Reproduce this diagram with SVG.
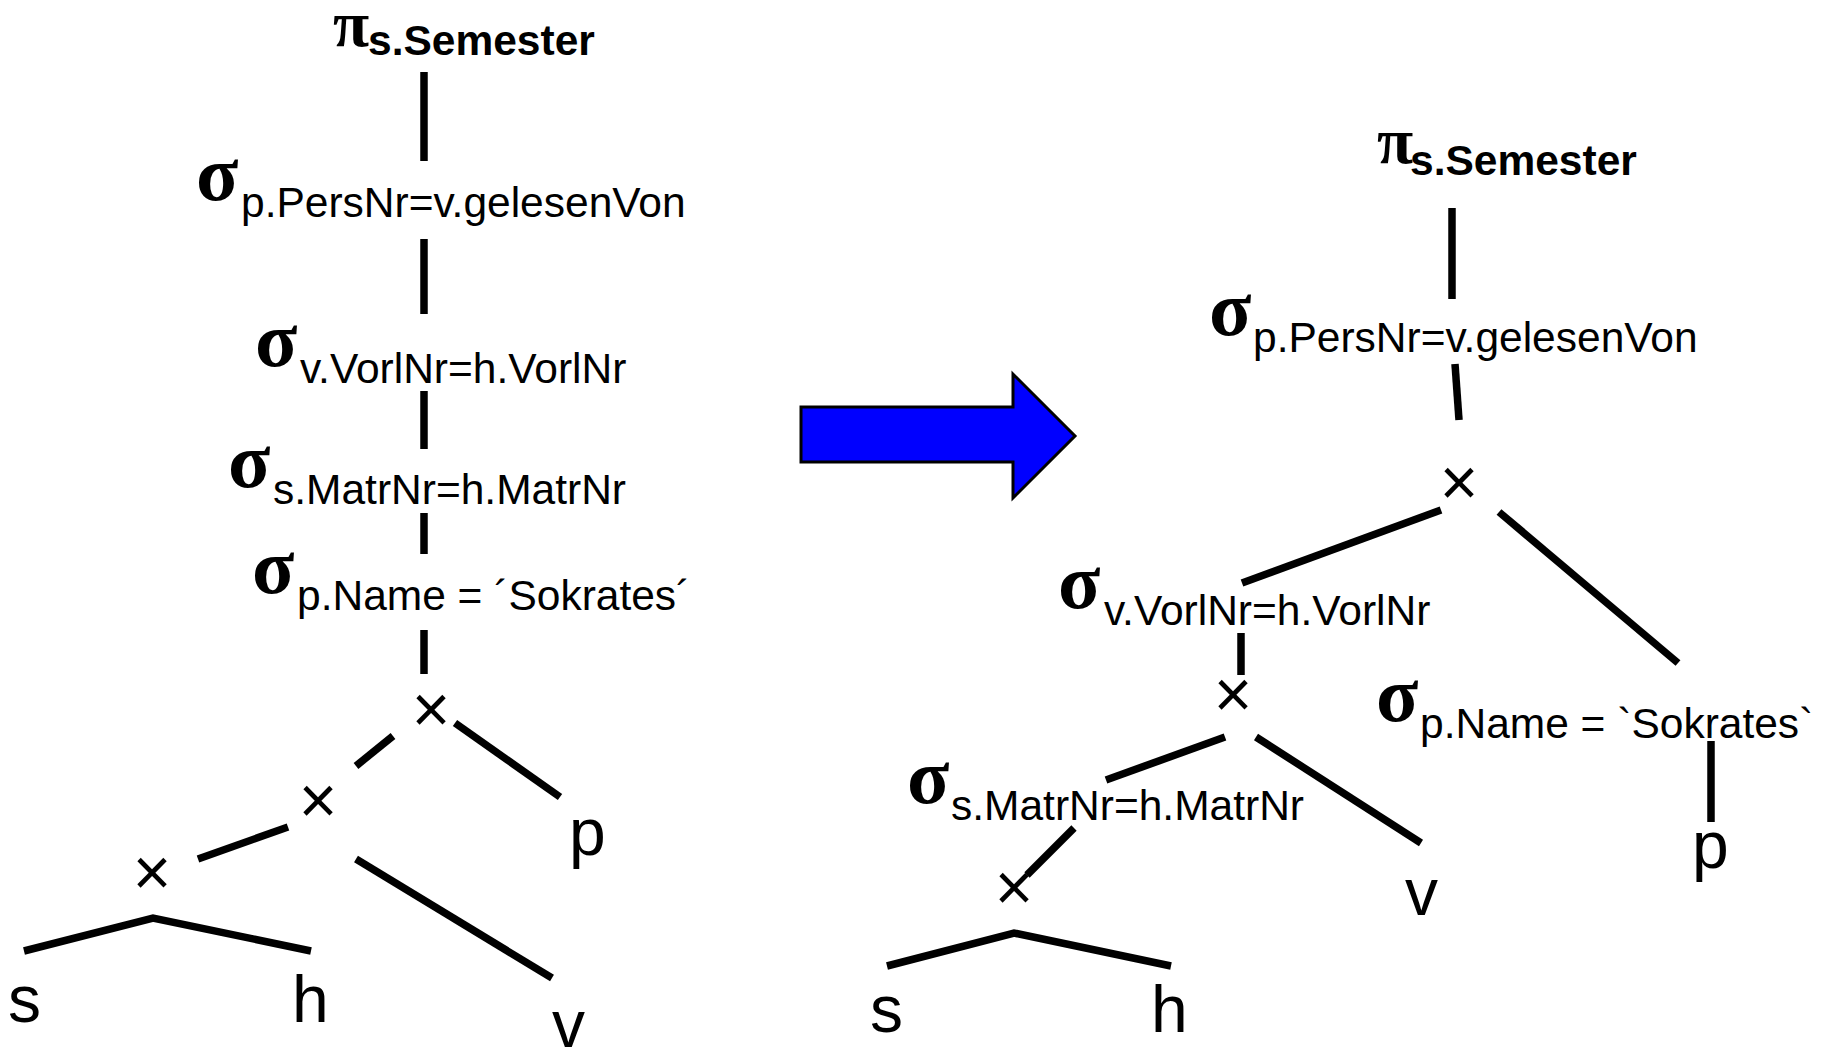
<svg xmlns="http://www.w3.org/2000/svg" width="1829" height="1050" viewBox="0 0 1829 1050">
<style>
.sym{font-family:"Liberation Serif","DejaVu Serif",serif;font-weight:bold;font-size:78px;fill:#000}
.pi{font-family:"Liberation Serif","DejaVu Serif",serif;font-weight:bold;font-size:66px;fill:#000}
.sub{font-family:"Liberation Sans",Arial,sans-serif;font-size:42.5px;fill:#000}
.subb{font-family:"Liberation Sans",Arial,sans-serif;font-size:42.5px;font-weight:bold;fill:#000}
.leaf{font-family:"Liberation Sans",Arial,sans-serif;font-size:66px;fill:#000}
.x{font-family:"Liberation Sans",Arial,sans-serif;font-size:66px;fill:#000;text-anchor:middle}
.c line,.c polyline{stroke:#000;stroke-width:7.5;stroke-linecap:butt;fill:none}
</style>
<rect width="1829" height="1050" fill="#fff"/>
<g id="connectors" class="c">
  <line x1="424" y1="72" x2="424" y2="161"/>
  <line x1="424" y1="239" x2="424" y2="314"/>
  <line x1="424" y1="391" x2="424" y2="449"/>
  <line x1="424" y1="513" x2="424" y2="554"/>
  <line x1="424" y1="630" x2="424" y2="674"/>
  <line x1="393" y1="736" x2="356" y2="766"/>
  <line x1="455" y1="723" x2="560" y2="797"/>
  <line x1="288" y1="827" x2="198" y2="859"/>
  <line x1="356" y1="859" x2="552" y2="978"/>
  <polyline points="24,951 153,918 311,951"/>
  <line x1="1452" y1="208" x2="1452" y2="299"/>
  <line x1="1455" y1="364" x2="1459" y2="420"/>
  <line x1="1441" y1="510" x2="1242" y2="583"/>
  <line x1="1499" y1="512" x2="1678" y2="663"/>
  <line x1="1241" y1="633" x2="1241" y2="675"/>
  <line x1="1225" y1="737" x2="1106" y2="780"/>
  <line x1="1256" y1="737" x2="1421" y2="843"/>
  <line x1="1074" y1="828" x2="1027" y2="875"/>
  <polyline points="887,966 1014,933 1171,966"/>
  <line x1="1711" y1="741" x2="1711" y2="822"/>
</g>
<g id="arrow">
  <polygon points="801,407 1013,407 1013,374 1075,436 1013,498 1013,462 801,462" fill="#0000ff" stroke="#000" stroke-width="3"/>
</g>
<g id="L_pi"><text><tspan class="pi" x="333" y="46">π</tspan><tspan class="subb" x="368" y="55">s.Semester</tspan></text></g>
<g id="L_sel1"><text><tspan class="sym" x="196" y="200">σ</tspan><tspan class="sub" x="241" y="217">p.PersNr=v.gelesenVon</tspan></text></g>
<g id="L_sel2"><text><tspan class="sym" x="255" y="366">σ</tspan><tspan class="sub" x="300" y="383">v.VorlNr=h.VorlNr</tspan></text></g>
<g id="L_sel3"><text><tspan class="sym" x="228" y="487">σ</tspan><tspan class="sub" x="273" y="504">s.MatrNr=h.MatrNr</tspan></text></g>
<g id="L_sel4"><text><tspan class="sym" x="252" y="593">σ</tspan><tspan class="sub" x="297" y="610">p.Name = ´Sokrates´</tspan></text></g>
<g id="L_x1"><text class="x" x="431" y="732">×</text></g>
<g id="L_x2"><text class="x" x="318" y="823">×</text></g>
<g id="L_x3"><text class="x" x="152" y="895">×</text></g>
<g id="L_s"><text class="leaf" x="8" y="1022">s</text></g>
<g id="L_h"><text class="leaf" x="292" y="1022">h</text></g>
<g id="L_v"><text class="leaf" x="552" y="1047">v</text></g>
<g id="L_p"><text class="leaf" x="569" y="855">p</text></g>
<g id="R_pi"><text><tspan class="pi" x="1377" y="163">π</tspan><tspan class="subb" x="1410" y="175">s.Semester</tspan></text></g>
<g id="R_sel1"><text><tspan class="sym" x="1209" y="335">σ</tspan><tspan class="sub" x="1253" y="352">p.PersNr=v.gelesenVon</tspan></text></g>
<g id="R_x1"><text class="x" x="1459" y="505">×</text></g>
<g id="R_sel2"><text><tspan class="sym" x="1058" y="608">σ</tspan><tspan class="sub" x="1104" y="625">v.VorlNr=h.VorlNr</tspan></text></g>
<g id="R_x2"><text class="x" x="1233" y="717">×</text></g>
<g id="R_sel3"><text><tspan class="sym" x="907" y="803">σ</tspan><tspan class="sub" x="951" y="820">s.MatrNr=h.MatrNr</tspan></text></g>
<g id="R_x3"><text class="x" x="1014" y="910">×</text></g>
<g id="R_sel4"><text><tspan class="sym" x="1376" y="721">σ</tspan><tspan class="sub" x="1420" y="738">p.Name = `Sokrates`</tspan></text></g>
<g id="R_s"><text class="leaf" x="870" y="1032">s</text></g>
<g id="R_h"><text class="leaf" x="1151" y="1032">h</text></g>
<g id="R_v"><text class="leaf" x="1405" y="915">v</text></g>
<g id="R_p"><text class="leaf" x="1692" y="868">p</text></g>
</svg>
